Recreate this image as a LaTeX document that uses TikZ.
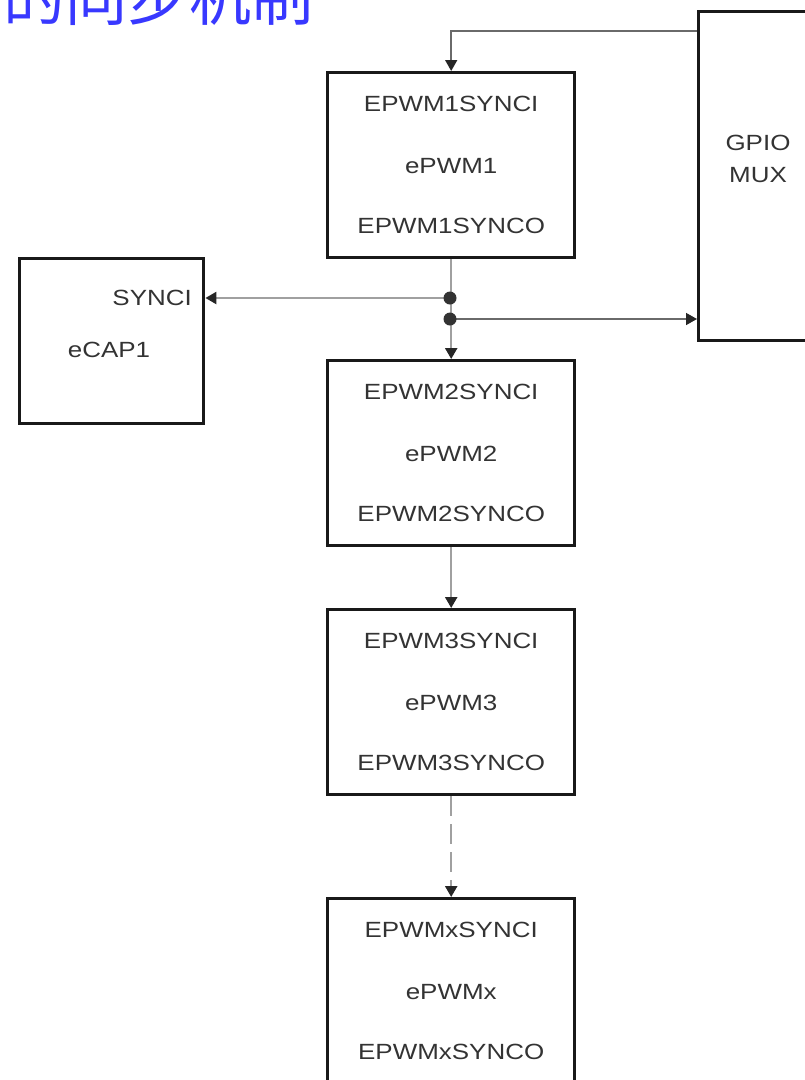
\documentclass[tikz,border=0pt]{standalone}
\usepackage{fontspec}
\usetikzlibrary{arrows.meta,calc}
\newfontfamily\lab[FakeStretch=1.18]{Liberation Sans}
\newfontfamily\cjk{Noto Sans CJK SC}
\definecolor{titleblue}{HTML}{3838FF}
\definecolor{txt}{HTML}{333333}
\definecolor{wire}{HTML}{A0A0A0}
\definecolor{wiredark}{HTML}{6A6A6A}
\tikzset{
  x=1pt, y=-1pt,
  blk/.style={draw=black!90, line width=3.4pt, minimum width=247pt, minimum height=185pt, inner sep=0pt, anchor=north west},
  lbl/.style={text=txt, font=\lab\fontsize{22}{24}\selectfont, inner sep=0pt},
  tip/.style={-{Triangle[length=11pt,width=12pt,fill=black!85,color=black!85]}},
  wirel/.style={draw=wire, line width=2.3pt},
  wired/.style={draw=wiredark, line width=1.5pt},
  dot/.style={circle, fill=black!80, inner sep=0pt, minimum size=13pt},
}
\begin{document}
\begin{tikzpicture}
\useasboundingbox (0,0) rectangle (805,1080);

% title line, partly above the page edge
\node[anchor=base west, inner sep=0pt, text=titleblue, font=\cjk\fontsize{62}{62}\selectfont] (title) at (3,20) {的同步机制};

% blocks
\node[blk] (p1) at (326,71) {};
\node[blk] (p2) at (326,359) {};
\node[blk] (p3) at (326,608) {};
\node[blk] (px) at (326,897) {};
\node[blk, minimum width=184pt, minimum height=165pt] (cap) at (18,257) {};
\node[blk, minimum width=140pt, minimum height=329pt] (gpio) at (697,10) {};

% block texts
\foreach \b/\n in {p1/1,p2/2,p3/3,px/x}{
  \node[lbl] (\b i) at ($(\b.north)+(0,33)$) {EPWM\n SYNCI};
  \node[lbl] (\b m) at ($(\b.north)+(0,95)$) {ePWM\n};
  \node[lbl] (\b o) at ($(\b.north)+(0,155)$) {EPWM\n SYNCO};
}
\node[lbl, anchor=east] (capi) at (192,298) {SYNCI};
\node[lbl] (capm) at (109,350) {eCAP1};
\node[lbl] (gpiot) at (758,143) {GPIO};
\node[lbl] (gpiob) at (758,175) {MUX};

% sync chain
\coordinate (d1) at (450,298);
\coordinate (d2) at (450,319);
\coordinate (gin) at ($(gpio.north west)+(0,21)$);

\draw[wired, tip] (gin) -| (p1.north);
\draw[wirel, tip] (p1.south) -- (p2.north);
\draw[wirel, tip] (d1) -- (d1 -| cap.east);
\draw[wired, tip] (d2) -- (d2 -| gpio.west);
\draw[wirel, tip] (p2.south) -- (p3.north);
\draw[wirel, tip, dash pattern=on 20pt off 8pt] (p3.south) -- (px.north);
\node[dot] (n1) at (d1) {};
\node[dot] (n2) at (d2) {};
\end{tikzpicture}
\end{document}
